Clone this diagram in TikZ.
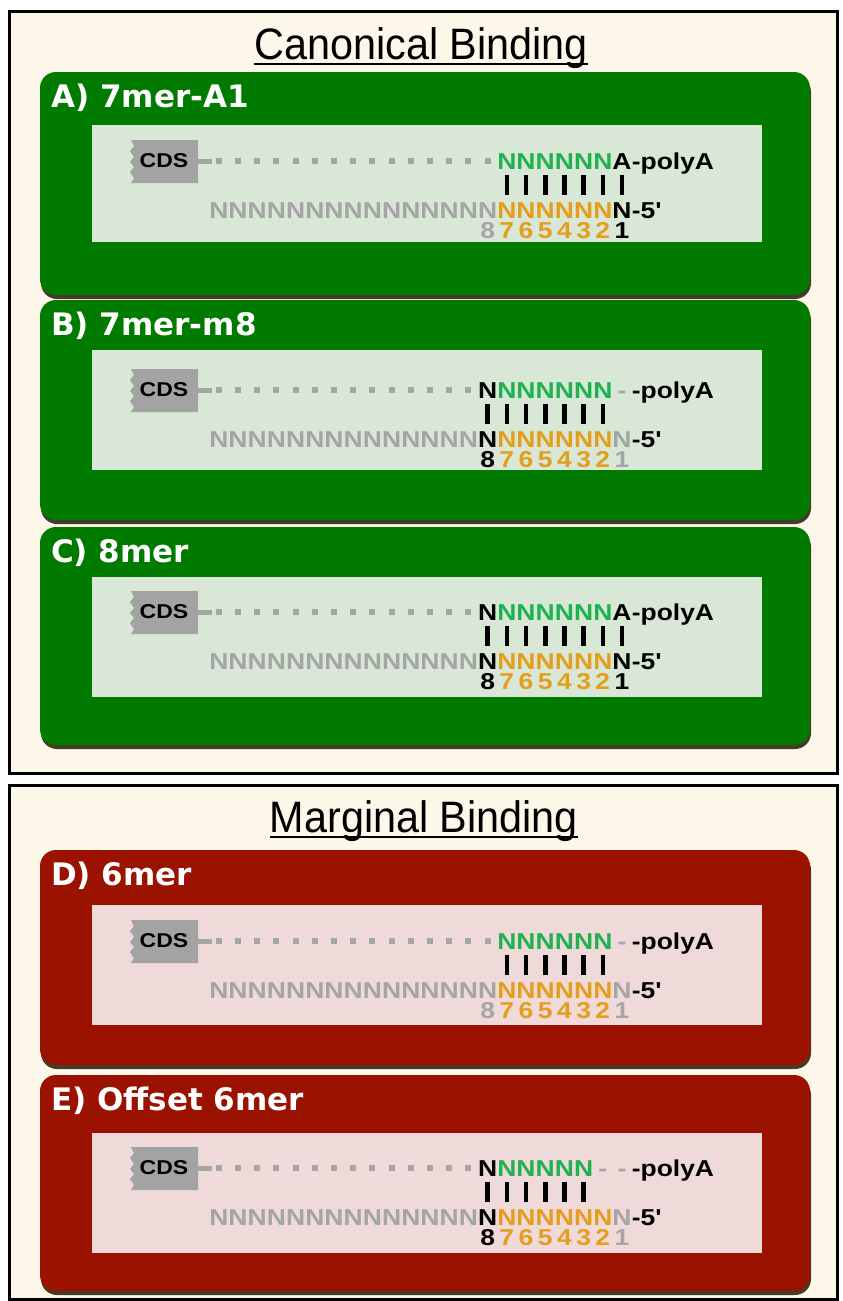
\documentclass[tikz,border=0pt]{standalone}
\usepackage{fontspec}
\setmainfont{Liberation Sans}
\newfontfamily\seqf{Liberation Sans}[FakeStretch=1.15]
\newfontfamily\titf{Liberation Sans}[FakeStretch=0.94]
\newfontfamily\labf{DejaVu Sans}
\definecolor{cream}{RGB}{253,247,233}
\definecolor{pgreen}{RGB}{0,123,0}
\definecolor{pred}{RGB}{155,18,0}
\definecolor{igreen}{RGB}{217,232,214}
\definecolor{ipink}{RGB}{240,217,217}
\definecolor{ngreen}{RGB}{32,178,80}
\definecolor{norange}{RGB}{228,158,30}
\definecolor{ngrey}{RGB}{165,165,165}
\definecolor{cdsgrey}{RGB}{163,163,163}
\definecolor{shadowc}{RGB}{70,58,42}
\tikzset{
  frame/.style={draw=black,line width=3pt,fill=cream},
  seqch/.style={inner sep=0pt,anchor=base,font=\seqf\bfseries\fontsize{23}{23}\selectfont},
  cdstext/.style={inner sep=0pt,font=\seqf\bfseries\fontsize{20}{20}\selectfont},
  plabel/.style={inner sep=0pt,text=white,font=\labf\bfseries\fontsize{31}{31}\selectfont},
  titlef/.style={inner sep=0pt,anchor=base,font=\titf\fontsize{44}{44}\selectfont},
}
\newcommand\panelbox[9]{%
  \fill[shadowc,rounded corners=16pt] (41,#2+4) rectangle (811,#3+4);
  \fill[#4,rounded corners=16pt] (40,#2) rectangle (810,#3);
  \node[plabel,anchor=base west] (#1-lab) at (51,#2+35) {#8};
  \fill[#7] (92,#5) rectangle (762,#6);
  \fill[cdsgrey] (198,#9-21) -- (131,#9-21) -- (134,#9-15) -- (130,#9-10) -- (134,#9-4) -- (130,#9+1) -- (134,#9+6) -- (130,#9+11) -- (134,#9+17) -- (131,#9+22) -- (198,#9+22) -- cycle;
  \node[cdstext] (#1-cds) at (164,#9) {CDS};
  \fill[ngrey] (198,#9-2.5) rectangle (212,#9+2.5);
}
\newcommand\seqdots[2]{%
  \foreach \c in {#1,...,22} \fill[ngrey] ({622-(\c-1)*19.2-3},#2-3) rectangle ++(6,6);}
\newcommand\seqbars[3]{%
  \foreach \c in {#1,...,#2} \fill[black] ({622-(\c-1)*19.2-2.3},#3+14) rectangle ++(4.6,20);}
\newcommand\seqrow[3]{%
  \foreach \c/\cl/\ch in {#3} \node[seqch,text=\cl] (#1\c) at ({622-(\c-1)*19.2},#2) {\ch};}
\newcommand\greyN[3]{%
  \foreach \c in {#1,...,22} \node[seqch,text=ngrey] (#3\c) at ({622-(\c-1)*19.2},#2) {N};}
\begin{document}
\begin{tikzpicture}[x=1pt,y=-1pt]
\fill[white] (0,0) rectangle (843,1301);
\useasboundingbox (0,0) rectangle (843,1301);
\draw[frame] (9,11) rectangle (837,773);
\draw[frame] (9,785) rectangle (837,1299);
% titles
\node[titlef] (t1) at (421,59) {Canonical Binding};
\draw[line width=2pt] ([yshift=-5pt]t1.base west) -- ([yshift=-5pt]t1.base east);
\node[titlef] (t2) at (424,832) {Marginal Binding};
\draw[line width=2pt] ([yshift=-5pt]t2.base west) -- ([yshift=-5pt]t2.base east);
% ---------- A ----------
\panelbox{A}{72}{295}{pgreen}{125}{242}{igreen}{A) 7mer-A1}{161}
\seqdots{8}{161}
\seqrow{A-u}{169}{7/ngreen/N,6/ngreen/N,5/ngreen/N,4/ngreen/N,3/ngreen/N,2/ngreen/N,1/black/A}
\node[seqch,anchor=base west] (A-poly) at (631.6,169) {-polyA};
\seqbars{1}{7}{161}
\greyN{8}{218}{A-l}
\seqrow{A-l}{218}{7/norange/N,6/norange/N,5/norange/N,4/norange/N,3/norange/N,2/norange/N,1/black/N}
\node[seqch,anchor=base west] (A-five) at (631.6,218) {-5'};
\seqrow{A-d}{238.5}{8/ngrey/8,7/norange/7,6/norange/6,5/norange/5,4/norange/4,3/norange/3,2/norange/2,1/black/1}
% ---------- B ----------
\panelbox{B}{300}{520}{pgreen}{350}{470}{igreen}{B) 7mer-m8}{390}
\seqdots{9}{390}
\seqrow{B-u}{398}{8/black/N,7/ngreen/N,6/ngreen/N,5/ngreen/N,4/ngreen/N,3/ngreen/N,2/ngreen/N,1/ngrey/-}
\node[seqch,anchor=base west] (B-poly) at (631.6,398) {-polyA};
\seqbars{2}{8}{390}
\greyN{9}{447}{B-l}
\seqrow{B-l}{447}{8/black/N,7/norange/N,6/norange/N,5/norange/N,4/norange/N,3/norange/N,2/norange/N,1/ngrey/N}
\node[seqch,anchor=base west] (B-five) at (631.6,447) {-5'};
\seqrow{B-d}{467.5}{8/black/8,7/norange/7,6/norange/6,5/norange/5,4/norange/4,3/norange/3,2/norange/2,1/ngrey/1}
% ---------- C ----------
\panelbox{C}{527}{745}{pgreen}{577}{697}{igreen}{C) 8mer}{612}
\seqdots{9}{612}
\seqrow{C-u}{620}{8/black/N,7/ngreen/N,6/ngreen/N,5/ngreen/N,4/ngreen/N,3/ngreen/N,2/ngreen/N,1/black/A}
\node[seqch,anchor=base west] (C-poly) at (631.6,620) {-polyA};
\seqbars{1}{8}{612}
\greyN{9}{669}{C-l}
\seqrow{C-l}{669}{8/black/N,7/norange/N,6/norange/N,5/norange/N,4/norange/N,3/norange/N,2/norange/N,1/black/N}
\node[seqch,anchor=base west] (C-five) at (631.6,669) {-5'};
\seqrow{C-d}{689.5}{8/black/8,7/norange/7,6/norange/6,5/norange/5,4/norange/4,3/norange/3,2/norange/2,1/black/1}
% ---------- D ----------
\panelbox{D}{850}{1065}{pred}{905}{1025}{ipink}{D) 6mer}{941}
\seqdots{8}{941}
\seqrow{D-u}{949}{7/ngreen/N,6/ngreen/N,5/ngreen/N,4/ngreen/N,3/ngreen/N,2/ngreen/N,1/ngrey/-}
\node[seqch,anchor=base west] (D-poly) at (631.6,949) {-polyA};
\seqbars{2}{7}{941}
\greyN{8}{998}{D-l}
\seqrow{D-l}{998}{7/norange/N,6/norange/N,5/norange/N,4/norange/N,3/norange/N,2/norange/N,1/ngrey/N}
\node[seqch,anchor=base west] (D-five) at (631.6,998) {-5'};
\seqrow{D-d}{1018.5}{8/ngrey/8,7/norange/7,6/norange/6,5/norange/5,4/norange/4,3/norange/3,2/norange/2,1/ngrey/1}
% ---------- E ----------
\panelbox{E}{1075}{1291}{pred}{1133}{1253}{ipink}{E) Offset 6mer}{1168}
\seqdots{9}{1168}
\seqrow{E-u}{1176}{8/black/N,7/ngreen/N,6/ngreen/N,5/ngreen/N,4/ngreen/N,3/ngreen/N,2/ngrey/-,1/ngrey/-}
\node[seqch,anchor=base west] (E-poly) at (631.6,1176) {-polyA};
\seqbars{3}{8}{1168}
\greyN{9}{1225}{E-l}
\seqrow{E-l}{1225}{8/black/N,7/norange/N,6/norange/N,5/norange/N,4/norange/N,3/norange/N,2/norange/N,1/ngrey/N}
\node[seqch,anchor=base west] (E-five) at (631.6,1225) {-5'};
\seqrow{E-d}{1245.5}{8/black/8,7/norange/7,6/norange/6,5/norange/5,4/norange/4,3/norange/3,2/norange/2,1/ngrey/1}
\end{tikzpicture}
\end{document}
